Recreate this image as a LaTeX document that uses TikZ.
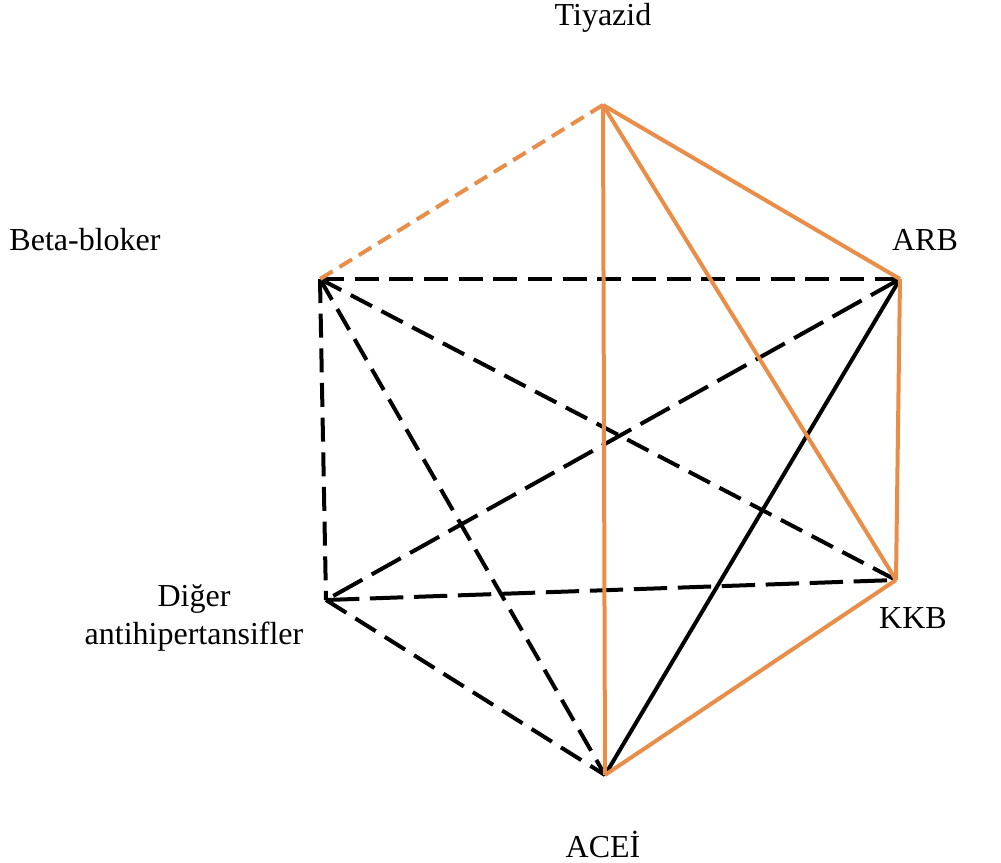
\documentclass[tikz,border=0pt]{standalone}
\usepackage{fontspec}
\setmainfont{Liberation Serif}
\definecolor{org}{RGB}{232,142,72}
\begin{document}
\begin{tikzpicture}[x=0.75pt,y=-0.75pt,
  edge/.style={line width=3pt},
  orangeedge/.style={edge,draw=org},
  blackdash/.style={edge,draw=black,dash pattern=on 18pt off 8pt},
  blacklong/.style={edge,draw=black,dash pattern=on 25pt off 8pt},
  orangedash/.style={edge,draw=org,dash pattern=on 11pt off 6pt},
  lbl/.style={font=\fontsize{24}{28}\selectfont,inner sep=0pt,align=center}]
\useasboundingbox (0,0) rectangle (1001,863);
\coordinate (T) at (603,105);
\coordinate (A) at (900,279);
\coordinate (K) at (896,580);
\coordinate (E) at (605,775);
\coordinate (D) at (326,600);
\coordinate (B) at (320,279);
% black edges
\draw[blackdash] (B) -- (A);
\draw[blackdash] (B) -- (D);
\draw[blackdash] (B) -- (K);
\draw[blackdash] (B) -- (E);
\draw[blacklong] (A) -- (D);
\draw[blacklong] (D) -- (K);
\draw[blackdash] (D) -- (E);
\draw[edge] (A) -- (E);
% orange edges
\draw[orangedash] (T) -- (B);
\draw[orangeedge] (T) -- (E);
\draw[orangeedge] (T) -- (K);
\draw[orangeedge] (T) -- (A);
\draw[orangeedge] (A) -- (K);
\draw[orangeedge] (K) -- (E);
% labels
\node[lbl] (lT) at (603,18) {Tiyazid};
\node[lbl] (lB) at (85,240) {Beta-bloker};
\node[lbl] (lA) at (925,240) {ARB};
\node[lbl] (lD) at (194,618) {Diğer\\antihipertansifler};
\node[lbl] (lK) at (913,618) {KKB};
\node[lbl, anchor=base] (lE) at (603,857) {ACEİ};
\end{tikzpicture}
\end{document}
